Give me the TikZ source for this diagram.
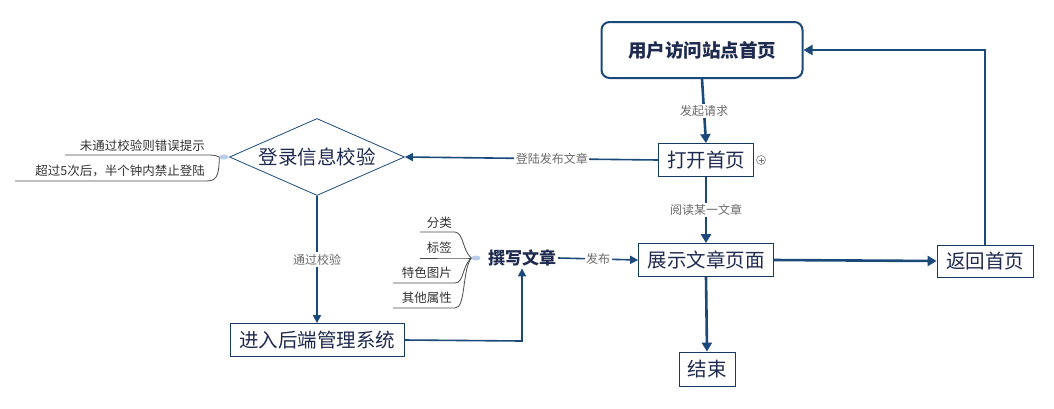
\documentclass[tikz,border=0pt]{standalone}
\usepackage{fontspec}
\setmainfont{Noto Sans CJK SC}
\usetikzlibrary{arrows.meta,shapes.geometric}
\definecolor{navy}{HTML}{1B4A7A}
\definecolor{boxtxt}{HTML}{1F2A4F}
\definecolor{lbl}{HTML}{6B6B6B}
\definecolor{mm}{HTML}{4A4A4A}
\definecolor{blob}{HTML}{B9CCE8}
\tikzset{
  x=1pt,y=-1pt,
  stepbox/.style={draw=navy!80!black,line width=0.8pt,fill=white,text=boxtxt,inner sep=0pt,font=\fontsize{19.5}{19.5}\selectfont},
  startbox/.style={draw=navy,line width=2pt,rounded corners=8pt,fill=white,text=boxtxt,minimum width=201pt,minimum height=56pt,font=\fontsize{18.5}{18.5}\selectfont\bfseries},
  decision/.style={diamond,draw=navy,line width=0.8pt,minimum width=175pt,minimum height=77pt,aspect=2.27,inner sep=0pt,text=boxtxt,font=\fontsize{19.5}{19.5}\selectfont},
  flow/.style={draw=navy,line width=2.6pt,-{Triangle[length=9pt,width=10pt]}},
  thin flow/.style={draw=navy,line width=1.6pt,-{Triangle[length=8pt,width=8pt]}},
  lab/.style={fill=white,text=lbl,inner sep=1.5pt,font=\fontsize{12}{12}\selectfont},
  mmtext/.style={text=black!80,inner sep=0pt,font=\fontsize{12.5}{12.5}\selectfont},
  mmline/.style={draw=mm,line width=0.8pt},
}
\begin{document}
\begin{tikzpicture}
\useasboundingbox (0,0) rectangle (1054,408);
\fill[white] (0,0) rectangle (1054,408);

% nodes
\node[startbox] (start) at (702,50) {用户访问站点首页};
\node[stepbox,minimum width=95pt,minimum height=33pt] (open) at (706,160) {打开首页};
\node[draw=black!45,line width=0.7pt,circle,inner sep=0pt,minimum size=9pt] (plus) at (761,160) {};
\draw[black!55,line width=0.7pt] ([xshift=-2.5pt]plus.center) -- ([xshift=2.5pt]plus.center)
  ([yshift=-2.5pt]plus.center) -- ([yshift=2.5pt]plus.center);
\node[decision] (login) at (317,157) {登录信息校验};
\node[stepbox,minimum width=174pt,minimum height=33pt] (admin) at (317,340) {进入后端管理系统};
\node[text=boxtxt,inner sep=2pt,font=\fontsize{17}{17}\selectfont\bfseries] (write) at (522,258) {撰写文章};
\node[stepbox,minimum width=135pt,minimum height=33pt] (show) at (706,260) {展示文章页面};
\node[stepbox,minimum width=56pt,minimum height=34pt] (end) at (707,369) {结束};
\node[stepbox,minimum width=96pt,minimum height=32pt] (back) at (985,261) {返回首页};
\coordinate (turn) at (522,341);
\coordinate (up) at (985,50);

% flow connectors
\draw[flow] (start.south) -- node[lab]{发起请求} (open.north);
\draw[flow] (open.south) -- node[lab]{阅读某一文章} (show.north);
\draw[thin flow] (open.west) -- node[lab,pos=0.42]{登陆发布文章} (login.east);
\draw[thin flow] (login.south) -- node[lab,pos=0.5]{通过校验} (admin.north);
\draw[thin flow] (admin.east) -- (turn) -- (write.south);
\draw[thin flow] (write.east) -- node[lab]{发布} (show.west);
\draw[flow] (show.south) -- (end.north);
\draw[flow] (show.east) -- (back.west);
\draw[flow] (back.north) -- (up) -- (start.east);

% mind-map branch of login
\node[ellipse,fill=blob,inner sep=0pt,minimum width=9pt,minimum height=5pt] (b1) at (224,157) {};
\node[mmtext,anchor=south east] (e1) at (205,152) {未通过校验则错误提示};
\node[mmtext,anchor=south east] (e2) at (205,177) {超过5次后，半个钟内禁止登陆};
\draw[mmline] (b1.west) .. controls (214,155) .. (205,155) -- (65,155);
\draw[mmline] (b1.west) .. controls (219,178) and (216,181) .. (205,181) -- (15,181);

% mind-map branch of write
\node[ellipse,fill=blob,inner sep=0pt,minimum width=9pt,minimum height=5pt] (b2) at (476,258) {};
\node[mmtext,anchor=south east] (f1) at (452,229) {分类};
\node[mmtext,anchor=south east] (f2) at (452,254) {标签};
\node[mmtext,anchor=south east] (f3) at (452,279) {特色图片};
\node[mmtext,anchor=south east] (f4) at (452,304) {其他属性};
\draw[mmline] (b2.west) .. controls (462,250) and (464,233) .. (455,232) -- (420,232);
\draw[mmline] (b2.west) .. controls (466,258) .. (455,258) -- (420,258);
\draw[mmline] (b2.west) .. controls (462,266) and (464,283) .. (455,283) -- (393,283);
\draw[mmline] (b2.west) .. controls (462,270) and (466,308) .. (455,308) -- (393,308);
\end{tikzpicture}
\end{document}
